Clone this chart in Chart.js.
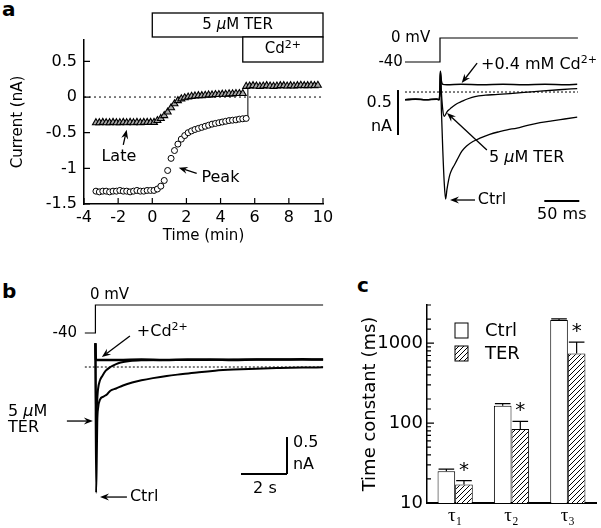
<!DOCTYPE html>
<html>
<head>
<meta charset="utf-8">
<script src="https://cdn.jsdelivr.net/npm/chart.js@4.4.1/dist/chart.umd.min.js"></script>
<style>
  body { margin: 0; width: 601px; height: 528px; background: #fff; position: relative; overflow: hidden; }
  canvas { position: absolute; }
  .tag { position: absolute; font: bold 20px "DejaVu Sans", sans-serif; line-height: 20px; }
</style>
</head>
<body>
<div class="tag" style="left:2px;top:-1px">a</div>
<div class="tag" style="left:2px;top:281px">b</div>
<div class="tag" style="left:357px;top:275px">c</div>
<canvas id="courseChart" style="left:0;top:0" width="340" height="250"></canvas>
<canvas id="stepChart" style="left:340px;top:0" width="261" height="230"></canvas>
<canvas id="longChart" style="left:0;top:270px" width="340" height="240"></canvas>
<canvas id="tauChart" style="left:360px;top:270px" width="241" height="258"></canvas>
<script>
// ---------- a (left): time course, min / nA
const courseTime = [-3.3,-3.1,-2.9,-2.7,-2.5,-2.3,-2.1,-1.9,-1.7,-1.5,-1.3,-1.1,-0.9,-0.7,-0.5,-0.3,-0.1,
  0.1,0.3,0.5,0.7,0.9,1.1,1.3,1.5,1.7,1.9,2.1,2.3,2.5,2.7,2.9,3.1,3.3,3.5,3.7,3.9,4.1,4.3,4.5,4.7,4.9,5.1,5.3,5.5,
  5.7,5.9,6.1,6.3,6.5,6.7,6.9,7.1,7.3,7.5,7.7,7.9,8.1,8.3,8.5,8.7,8.9,9.1,9.3,9.5,9.7,9.9];
const lateCurrent = [-0.36,-0.36,-0.355,-0.36,-0.36,-0.355,-0.36,-0.36,-0.355,-0.36,-0.355,-0.36,-0.355,-0.36,-0.355,-0.355,-0.355,
  -0.355,-0.33,-0.30,-0.26,-0.21,-0.15,-0.095,-0.05,-0.025,-0.01,0.0,0.01,0.015,0.02,0.02,0.025,0.03,0.03,0.035,0.035,0.04,0.04,0.045,0.045,0.05,0.05,0.05,
  0.15,0.155,0.16,0.155,0.15,0.155,0.16,0.155,0.15,0.155,0.16,0.16,0.155,0.16,0.155,0.16,0.165,0.16,0.16,0.165,0.16,0.165];
const peakCurrent = [-1.32,-1.33,-1.32,-1.32,-1.33,-1.32,-1.32,-1.31,-1.32,-1.32,-1.33,-1.32,-1.31,-1.32,-1.32,-1.31,-1.31,
  -1.31,-1.29,-1.25,-1.17,-1.03,-0.86,-0.75,-0.66,-0.59,-0.54,-0.50,-0.475,-0.455,-0.44,-0.425,-0.41,-0.395,-0.38,-0.37,-0.36,-0.35,-0.34,-0.33,-0.325,-0.32,-0.31,-0.305,-0.30];
const cdSwitch = 5.6;
const terApplied = [0, 10];
const cdApplied = [5.3, 10];
const courseXTicks = [-4, -2, 0, 2, 4, 6, 8, 10];
const courseYTicks = [-1.5, -1, -0.5, 0, 0.5];

// ---------- a (right): traces, ms / nA / mV
const ctrlFastT = [-50,-35,-20,-5,-1,0,0.6,2,4,6,8,10,12,14,17,20,24,31,38,47,58,71,85,96,110,125,143,160,178,196];
const ctrlFastI = [-0.085,-0.08,-0.085,-0.08,-0.085,0.05,0.23,-0.2,-0.65,-1.0,-1.19,-1.08,-0.99,-0.92,-0.86,-0.82,-0.76,-0.66,-0.6,-0.55,-0.51,-0.47,-0.44,-0.42,-0.4,-0.37,-0.34,-0.32,-0.3,-0.28];
const terFastT = [-50,-35,-20,-5,-1,0,0.6,2,4,6,8,10,14,17,24,31,40,50,65,79,100,120,143,170,196];
const terFastI = [-0.085,-0.08,-0.085,-0.08,-0.085,0.05,0.23,0.0,-0.2,-0.27,-0.25,-0.22,-0.19,-0.17,-0.13,-0.105,-0.075,-0.05,-0.035,-0.028,-0.017,-0.005,0.01,0.025,0.038];
const cdFastT = [-50,-35,-20,-5,-1,0,0.6,2,4,10,30,60,90,120,150,180,196];
const cdFastI = [-0.085,-0.08,-0.085,-0.08,-0.085,0.05,0.23,0.12,0.085,0.08,0.085,0.08,0.085,0.08,0.085,0.08,0.085];
const fastVoltT = [-50, 0, 0, 197];
const fastVoltMv = [-40, -40, 0, 0];

// ---------- b: long traces, s / nA / mV
const ctrlSlowT = [0,0.03,0.06,0.08,0.12,0.2,0.35,0.5,0.65,0.9,1.2,1.6,2.0,2.5,3.1,3.8,4.5,5.2,6.0,7.0,8.0,9.0,9.9];
const ctrlSlowI = [0.32,-1.7,-1.2,-0.75,-0.55,-0.44,-0.4,-0.37,-0.32,-0.29,-0.25,-0.21,-0.18,-0.15,-0.12,-0.095,-0.07,-0.05,-0.035,-0.022,-0.014,-0.008,-0.004];
const terSlowT = [0,0.03,0.06,0.11,0.2,0.3,0.45,0.65,0.9,1.1,1.5,2.0,3.0,4.5,6.0,8.0,9.9];
const terSlowI = [0.32,-0.74,-0.55,-0.31,-0.18,-0.12,-0.05,0.0,0.04,0.06,0.08,0.09,0.095,0.095,0.1,0.1,0.1];
const cdSlowT = [0,0.02,0.05,1,2,3,4,5,6,7,8,9,9.9];
const cdSlowI = [0.32,0.1,0.095,0.095,0.1,0.095,0.1,0.1,0.095,0.1,0.1,0.105,0.1];
const slowVoltT = [-0.46, 0, 0, 9.9];
const slowVoltMv = [-40, -40, 0, 0];

// ---------- c: time constants (ms)
const tauLabels = ['τ₁', 'τ₂', 'τ₃'];
const ctrlTau = [25, 165, 1950];
const ctrlTauUpper = [26.5, 175, 2010];
const terTau = [17, 84, 740];
const terTauUpper = [19, 105, 1030];

Chart.defaults.font.family = '"DejaVu Sans", sans-serif';
Chart.defaults.color = '#000';
Chart.defaults.animation = false;
Chart.defaults.plugins.legend.display = false;
Chart.defaults.plugins.tooltip.enabled = false;
const serif = '"Liberation Serif", "DejaVu Serif", serif';

function pairs(xs, ys) { return ys.map((y, i) => ({ x: xs[i], y: y })); }

function drawParts(ctx, parts, x, y, align, size) {
  const items = parts.map(p => typeof p === 'string' ? [p, ''] : p);
  const fontOf = p => (p[1] === 'i' ? 'italic ' : '') + (p[1] === 's' ? Math.round(size * 0.7) : size) + 'px "DejaVu Sans", sans-serif';
  let w = 0;
  items.forEach(p => { ctx.font = fontOf(p); w += ctx.measureText(p[0]).width; });
  let cx = align === 'right' ? x - w : align === 'center' ? x - w / 2 : x;
  ctx.save();
  ctx.textBaseline = 'middle'; ctx.textAlign = 'left'; ctx.fillStyle = '#000';
  items.forEach(p => {
    ctx.font = fontOf(p);
    ctx.fillText(p[0], cx, p[1] === 's' ? y - size * 0.3 : y);
    cx += ctx.measureText(p[0]).width;
  });
  ctx.restore();
}

function arrow(ctx, x1, y1, x2, y2) {
  const a = Math.atan2(y2 - y1, x2 - x1), c = Math.cos(a), s = Math.sin(a), h = 9, w = 3.5;
  ctx.save(); ctx.strokeStyle = '#000'; ctx.fillStyle = '#000'; ctx.lineWidth = 1.3;
  ctx.beginPath(); ctx.moveTo(x1, y1); ctx.lineTo(x2 - c * 6, y2 - s * 6); ctx.stroke();
  ctx.beginPath(); ctx.moveTo(x2, y2);
  ctx.lineTo(x2 - c * h - s * w, y2 - s * h + c * w);
  ctx.lineTo(x2 - c * 6, y2 - s * 6);
  ctx.lineTo(x2 - c * h + s * w, y2 - s * h - c * w);
  ctx.closePath(); ctx.fill(); ctx.restore();
}

// notes are placed in data units of the chart they belong to
function drawNotes(chart, notes) {
  const ctx = chart.ctx, sx = chart.scales.x;
  notes.forEach(n => {
    const sy = chart.scales[n.axis || 'y'];
    const px = v => sx.getPixelForValue(v), py = v => sy.getPixelForValue(v);
    if (n.arrow) arrow(ctx, px(n.arrow[0]), py(n.arrow[1]), px(n.arrow[2]), py(n.arrow[3]));
    if (n.bar) {
      ctx.save(); ctx.lineWidth = 2; ctx.strokeStyle = '#000'; ctx.beginPath();
      ctx.moveTo(px(n.bar[0]), py(n.bar[1])); ctx.lineTo(px(n.bar[2]), py(n.bar[3]));
      ctx.stroke(); ctx.restore();
    }
    if (n.text) drawParts(ctx, n.text, px(n.at[0]), py(n.at[1]), n.align || 'left', n.size || 16);
  });
}

function inwardTicks(chart, scale, values, len) {
  const ctx = chart.ctx, ca = chart.chartArea;
  ctx.save(); ctx.strokeStyle = '#000'; ctx.lineWidth = 1.2; ctx.beginPath();
  values.forEach(v => {
    const p = scale.getPixelForValue(v), l = typeof len === 'function' ? len(v) : len;
    if (scale.isHorizontal()) { ctx.moveTo(p, ca.bottom); ctx.lineTo(p, ca.bottom - l); }
    else { ctx.moveTo(ca.left, p); ctx.lineTo(ca.left + l, p); }
  });
  ctx.stroke(); ctx.restore();
}

function traceSet(xs, ys, width, axis) {
  return { data: pairs(xs, ys), borderColor: '#000', borderWidth: width, pointRadius: 0,
           cubicInterpolationMode: 'monotone', yAxisID: axis || 'y' };
}
function hiddenAxes(xmin, xmax, ymin, ymax, vmin, vmax) {
  return {
    x: { type: 'linear', display: false, min: xmin, max: xmax },
    y: { type: 'linear', display: false, min: ymin, max: ymax },
    yv: { type: 'linear', display: false, min: vmin, max: vmax }
  };
}

const terText = ['5 ', ['µ', 'i'], 'M TER'];

// ---------- chart a (left)
const coursePlugin = {
  id: 'courseDecor',
  afterDraw(chart) {
    const ctx = chart.ctx, ca = chart.chartArea, xs = chart.scales.x;
    inwardTicks(chart, xs, courseXTicks, 6);
    inwardTicks(chart, chart.scales.y, courseYTicks, 6);
    const rows = [[terApplied, terText, ca.top - 27, ca.top - 3], [cdApplied, ['Cd', ['2+', 's']], ca.top - 3, ca.top + 22]];
    rows.forEach(r => {
      const x1 = xs.getPixelForValue(r[0][0]), x2 = xs.getPixelForValue(r[0][1]);
      ctx.save(); ctx.fillStyle = '#fff'; ctx.fillRect(x1, r[2], x2 - x1, r[3] - r[2]);
      ctx.strokeStyle = '#000'; ctx.lineWidth = 1.3; ctx.strokeRect(x1, r[2], x2 - x1, r[3] - r[2]); ctx.restore();
      drawParts(ctx, r[1], (x1 + x2) / 2, (r[2] + r[3]) / 2, 'center', 15);
    });
    drawNotes(chart, [
      { text: ['Late'], at: [-1.96, -0.84], align: 'center', arrow: [-1.70, -0.67, -1.50, -0.46] },
      { text: ['Peak'], at: [2.88, -1.136], arrow: [2.6, -1.07, 1.55, -0.99] }
    ]);
  }
};

new Chart(document.getElementById('courseChart'), {
  type: 'scatter',
  data: { datasets: [
    { data: pairs(courseTime, peakCurrent), pointStyle: 'circle', pointRadius: 3, backgroundColor: '#fff', borderColor: '#000', borderWidth: 1 },
    { data: pairs(courseTime, lateCurrent), pointStyle: 'triangle', pointRadius: 4, backgroundColor: '#aaa', borderColor: '#000', borderWidth: 1.1 },
    { type: 'line', data: [{ x: cdSwitch, y: peakCurrent[peakCurrent.length - 1] }, { x: cdSwitch, y: lateCurrent[peakCurrent.length] }],
      borderColor: '#000', borderWidth: 1, pointRadius: 0 },
    { type: 'line', data: [{ x: -4, y: 0 }, { x: 10, y: 0 }], borderColor: '#000', borderWidth: 1, borderDash: [2, 3], pointRadius: 0 }
  ] },
  options: {
    responsive: false,
    layout: { padding: { left: 0, top: 40, right: 17, bottom: 0 } },
    scales: {
      x: { type: 'linear', min: -4, max: 10,
           afterBuildTicks: s => { s.ticks = courseXTicks.map(v => ({ value: v })); },
           grid: { display: false, drawTicks: false }, border: { color: '#000', width: 1.5 },
           ticks: { padding: 4, font: { size: 16 }, callback: v => String(v) },
           title: { display: true, text: 'Time (min)', font: { size: 15 }, padding: { top: 0, bottom: 5 } },
           afterFit: s => { s.height = 46; } },
      y: { min: -1.5, max: 0.8,
           afterBuildTicks: s => { s.ticks = courseYTicks.map(v => ({ value: v })); },
           grid: { display: false, drawTicks: false }, border: { color: '#000', width: 1.5 },
           ticks: { padding: 7, font: { size: 16 }, callback: v => String(v) },
           title: { display: true, text: 'Current (nA)', font: { size: 15 }, padding: { top: 9, bottom: 0 } },
           afterFit: s => { s.width = 84; } }
    }
  },
  plugins: [coursePlugin]
});

// ---------- chart a (right)
new Chart(document.getElementById('stepChart'), {
  type: 'line',
  data: { datasets: [
    traceSet(ctrlFastT, ctrlFastI, 1.3),
    traceSet(terFastT, terFastI, 1.3),
    traceSet(cdFastT, cdFastI, 1.5),
    Object.assign(traceSet(fastVoltT, fastVoltMv, 1.2, 'yv'), { cubicInterpolationMode: 'default' }),
    { data: [{ x: -50, y: 0 }, { x: 197, y: 0 }], borderColor: '#000', borderWidth: 1, borderDash: [2, 2], pointRadius: 0 }
  ] },
  options: {
    responsive: false,
    layout: { padding: { left: 60, top: 30, right: 21, bottom: 20 } },
    scales: hiddenAxes(-57.14, 200, -1.311, 0.689, -286.67, 13.33)
  },
  plugins: [{
    id: 'stepNotes',
    afterDraw(chart) {
      drawNotes(chart, [
        { text: ['0 mV'], at: [-14, 0], axis: 'yv', align: 'right', size: 15 },
        { text: ['-40'], at: [-53, -40], axis: 'yv', align: 'right', size: 15 },
        { text: ['+0.4 mM Cd', ['2+', 's']], at: [58.6, 0.3], arrow: [53, 0.32, 31, 0.1] },
        { text: terText, at: [70, -0.733], arrow: [67, -0.644, 10, -0.233] },
        { text: ['Ctrl'], at: [54, -1.2], arrow: [50, -1.2, 14.3, -1.2] },
        { bar: [-60, 0.022, -60, -0.478] },
        { text: ['0.5'], at: [-68.6, -0.122], align: 'right' },
        { text: ['nA'], at: [-68.6, -0.389], align: 'right' },
        { bar: [149, -1.211, 199, -1.211] },
        { text: ['50 ms'], at: [174, -1.367], align: 'center' }
      ]);
    }
  }]
});

// ---------- chart b
new Chart(document.getElementById('longChart'), {
  type: 'line',
  data: { datasets: [
    traceSet(ctrlSlowT, ctrlSlowI, 2),
    traceSet(terSlowT, terSlowI, 2),
    traceSet(cdSlowT, cdSlowI, 2.5),
    Object.assign(traceSet(slowVoltT, slowVoltMv, 1.2, 'yv'), { cubicInterpolationMode: 'default' }),
    { data: [{ x: -0.46, y: 0 }, { x: 9.9, y: 0 }], borderColor: '#000', borderWidth: 1, borderDash: [2, 2], pointRadius: 0 }
  ] },
  options: {
    responsive: false,
    layout: { padding: { left: 80, top: 25, right: 10, bottom: 10 } },
    scales: hiddenAxes(-0.67, 10.2, -1.797, 0.973, -278.6, 14.29)
  },
  plugins: [{
    id: 'longNotes',
    afterDraw(chart) {
      drawNotes(chart, [
        { text: ['0 mV'], at: [-0.24, 14.3], axis: 'yv', size: 15 },
        { text: ['-40'], at: [-0.8, -40], axis: 'yv', align: 'right', size: 15 },
        { text: ['+Cd', ['2+', 's']], at: [1.8, 0.47], arrow: [1.5, 0.42, 0.28, 0.135] },
        { text: ['5 ', ['µ', 'i'], 'M'], at: [-3.8, -0.61] },
        { text: ['TER'], at: [-3.8, -0.82] },
        { arrow: [-1.24, -0.73, -0.11, -0.73] },
        { text: ['Ctrl'], at: [1.5, -1.757], arrow: [1.37, -1.757, 0.2, -1.757] },
        { bar: [8.33, -1.446, 8.33, -0.946] },
        { bar: [6.33, -1.446, 8.33, -1.446] },
        { text: ['0.5'], at: [8.59, -1.03] },
        { text: ['nA'], at: [8.59, -1.32] },
        { text: ['2 s'], at: [7.37, -1.65], align: 'center' }
      ]);
    }
  }]
});

// ---------- chart c
function hatch() {
  const n = 5, c = document.createElement('canvas'); c.width = n; c.height = n;
  const g = c.getContext('2d');
  g.fillStyle = '#fff'; g.fillRect(0, 0, n, n);
  g.strokeStyle = '#000'; g.lineWidth = 1;
  g.beginPath();
  g.moveTo(0, n); g.lineTo(n, 0);
  g.moveTo(-1, 1); g.lineTo(1, -1);
  g.moveTo(n - 1, n + 1); g.lineTo(n + 1, n - 1);
  g.stroke();
  return g.createPattern(c, 'repeat');
}
const hatchFill = hatch();
const isDecade = v => Math.abs(Math.log10(v) - Math.round(Math.log10(v))) < 1e-9;

new Chart(document.getElementById('tauChart'), {
  type: 'bar',
  data: { labels: tauLabels, datasets: [
    { label: 'Ctrl', data: ctrlTau, backgroundColor: '#fff', borderColor: '#000', borderWidth: 1 },
    { label: 'TER', data: terTau, backgroundColor: hatchFill, borderColor: '#000', borderWidth: 1 }
  ] },
  options: {
    responsive: false,
    layout: { padding: { left: 0, top: 35, right: 5, bottom: 0 } },
    datasets: { bar: { categoryPercentage: 0.625, barPercentage: 1 } },
    scales: {
      x: { grid: { display: false, drawTicks: false }, border: { color: '#000', width: 2 },
           ticks: { padding: 2, font: { family: serif, size: 19 } },
           afterFit: s => { s.height = 25; } },
      y: { type: 'logarithmic', min: 10, max: 3000,
           grid: { display: false, drawTicks: false }, border: { color: '#000', width: 1.5 },
           ticks: { autoSkip: false, padding: 4, font: { size: 18 }, callback: v => isDecade(v) ? String(v) : '' },
           title: { display: true, text: 'Time constant (ms)', font: { size: 18 }, padding: 0 },
           afterFit: s => { s.width = 67; } }
    }
  },
  plugins: [{
    id: 'tauDecor',
    afterDatasetsDraw(chart) {
      const ctx = chart.ctx, ys = chart.scales.y, ca = chart.chartArea;
      const uppers = [ctrlTauUpper, terTauUpper];
      ctx.save(); ctx.strokeStyle = '#000'; ctx.lineWidth = 1.2;
      uppers.forEach((up, d) => {
        chart.getDatasetMeta(d).data.forEach((bar, i) => {
          const yTop = ys.getPixelForValue(up[i]), half = bar.width / 2 - 1;
          ctx.beginPath(); ctx.moveTo(bar.x, bar.y); ctx.lineTo(bar.x, yTop);
          ctx.moveTo(bar.x - half, yTop); ctx.lineTo(bar.x + half, yTop); ctx.stroke();
          if (d === 1) {
            ctx.font = '20px "DejaVu Sans", sans-serif'; ctx.textAlign = 'center'; ctx.textBaseline = 'alphabetic';
            ctx.fillStyle = '#000'; ctx.fillText('*', bar.x, yTop - 5);
          }
        });
      });
      ctx.restore();
      inwardTicks(chart, ys, ys.ticks.map(t => t.value), v => isDecade(v) ? 7 : 4);
      // legend
      const fills = ['#fff', hatchFill], names = ['Ctrl', 'TER'];
      names.forEach((name, i) => {
        const bx = ca.left + 28, by = ca.top + 18 + i * 23;
        ctx.save(); ctx.fillStyle = fills[i]; ctx.fillRect(bx, by, 13, 15);
        ctx.strokeStyle = '#000'; ctx.lineWidth = 1; ctx.strokeRect(bx, by, 13, 15); ctx.restore();
        drawParts(ctx, [name], ca.left + 58, by + 8, 'left', 18);
      });
    }
  }]
});
</script>
</body>
</html>
